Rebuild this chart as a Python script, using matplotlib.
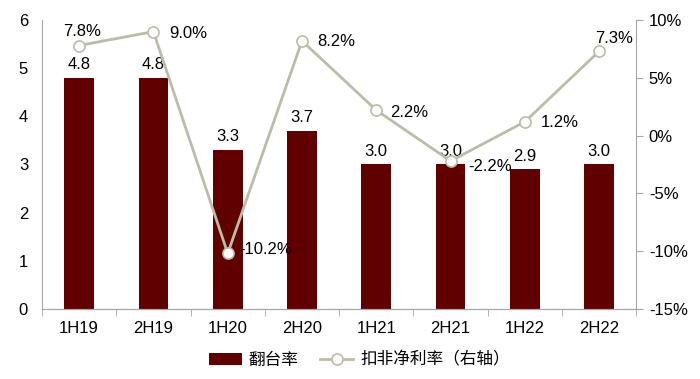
import matplotlib
matplotlib.use("Agg")
import matplotlib.pyplot as plt
import numpy as np

plt.rcParams['font.family'] = ['Liberation Sans', 'Noto Sans CJK SC']

periods = ["1H19", "2H19", "1H20", "2H20", "1H21", "2H21", "1H22", "2H22"]
turnover = [4.8, 4.8, 3.3, 3.7, 3.0, 3.0, 2.9, 3.0]
margin = [7.8, 9.0, -10.2, 8.2, 2.2, -2.2, 1.2, 7.3]

bar_color = "#600000"
line_color = "#BDBBAA"
axis_color = "#A6A6A6"

fig = plt.figure(figsize=(7, 3.79), dpi=100)
ax = fig.add_axes([0.06, 0.185, 0.849, 0.762])
ax2 = ax.twinx()

x = np.arange(len(periods))
ax.bar(x, turnover, width=0.4, color=bar_color, label="翻台率", zorder=2)
for xi, v in zip(x, turnover):
    ax.text(xi, v + 0.12, f"{v:.1f}", ha="center", va="bottom", fontsize=12)

ax.set_ylim(0, 6)
ax.set_xlim(-0.5, len(periods) - 0.5)
ax.set_yticks(range(0, 7))
ax.set_xticks(x)
ax.set_xticklabels(periods)
ax.set_xticks(np.arange(-0.5, len(periods)), minor=True)
ax.tick_params(axis="x", which="major", length=0, pad=9, labelsize=12)
ax.tick_params(axis="x", which="minor", length=5, color=axis_color)
ax.tick_params(axis="y", length=0, labelsize=12, pad=10)

ax2.plot(x, margin, color=line_color, lw=2, marker="o", ms=8,
         mfc="white", mec=line_color, mew=1.2, label="扣非净利率（右轴）", zorder=3)
ax2.set_ylim(-15, 10)
ax2.set_yticks(range(-15, 11, 5))
ax2.set_yticklabels([f"{t}%" for t in range(-15, 11, 5)])
ax2.tick_params(axis="y", length=5, color=axis_color, labelsize=12, pad=4)

# label offsets in pixels (dx, dy up); "c" = centred above, "l" = left aligned
offsets = [("c", 3, 14), ("l", 16, -2), ("l", 12, 4), ("l", 15, -1),
           ("l", 14, -2), ("l", 18, -5), ("l", 16, -1), ("c", 15, 13)]
for xi, v, (al, dx, dy) in zip(x, margin, offsets):
    ax2.annotate(f"{v:.1f}%", (xi, v), xytext=(dx * 0.72, dy * 0.72),
                 textcoords="offset points", ha="center" if al == "c" else "left",
                 va="center", fontsize=12, zorder=6)

for a in (ax, ax2):
    a.spines["top"].set_visible(False)
    for s in ("left", "right", "bottom"):
        a.spines[s].set_color(axis_color)
ax2.spines["left"].set_visible(False)
ax.spines["right"].set_visible(False)

h1, l1 = ax.get_legend_handles_labels()
h2, l2 = ax2.get_legend_handles_labels()
fig.legend(h1 + h2, l1 + l2, loc="lower center", bbox_to_anchor=(0.513, -0.01),
           ncol=2, frameon=False, fontsize=12, handlelength=2.0, columnspacing=1.3,
           handletextpad=0.4)

fig.savefig("out.png", dpi=100)
